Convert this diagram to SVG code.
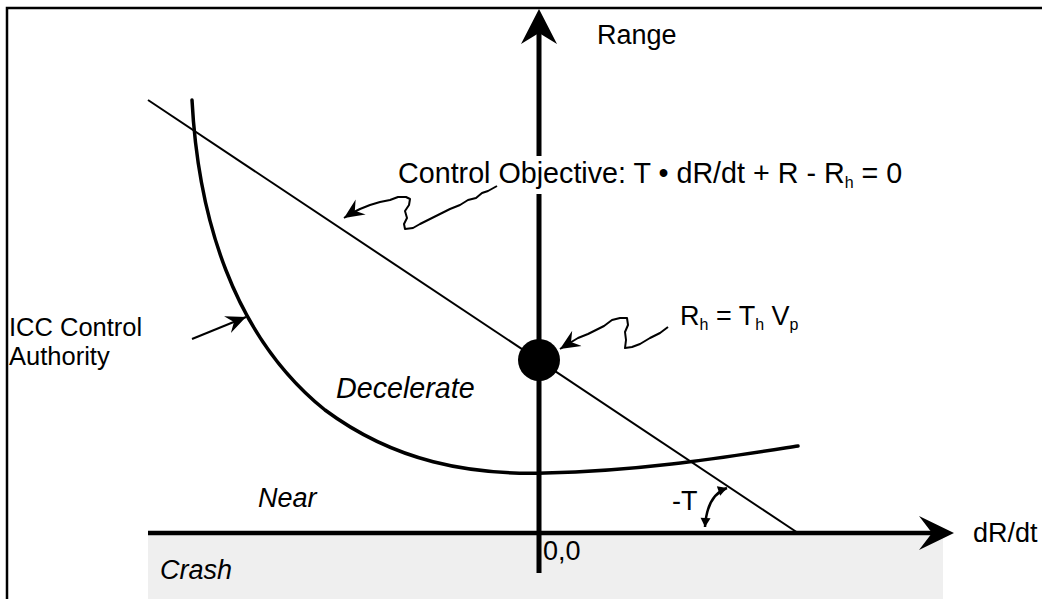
<svg xmlns="http://www.w3.org/2000/svg" width="1042" height="599" viewBox="0 0 1042 599">
<style>
text{font-family:"Liberation Sans",Arial,sans-serif;font-size:27px;fill:#000}
.it{font-style:italic}
.sub{font-size:16px}
.big{font-size:28.7px}
.icc{font-size:25.5px}
.thin{fill:none;stroke:#000;stroke-width:2}
.sq{fill:none;stroke:#000;stroke-width:2;stroke-linejoin:round}
</style>
<defs>
<marker id="ah" viewBox="-20 -10 22 20" refX="0" refY="0" markerWidth="22" markerHeight="20" markerUnits="userSpaceOnUse" orient="auto">
<path d="M0,0 L-20,-9 L-13,0 L-20,9 Z" fill="#000"/>
</marker>
<marker id="sm" viewBox="-10 -6 12 12" refX="0" refY="0" markerWidth="12" markerHeight="12" markerUnits="userSpaceOnUse" orient="auto">
<path d="M0,0 L-9,-5 L-9,5 Z" fill="#000"/>
</marker>
<marker id="sms" viewBox="-2 -6 12 12" refX="0" refY="0" markerWidth="12" markerHeight="12" markerUnits="userSpaceOnUse" orient="auto">
<path d="M0,0 L9,-5 L9,5 Z" fill="#000"/>
</marker>
</defs>
<rect x="0" y="0" width="1042" height="599" fill="#fff"/>
<g id="frame">
<path d="M7,599 V8 H1042" fill="none" stroke="#000" stroke-width="2.5"/>
</g>
<g id="crash-zone">
<rect x="148" y="535" width="795" height="64" fill="#efefef"/>
<text class="it" x="160" y="579">Crash</text>
</g>
<g id="connectors">
<line x1="148" y1="533" x2="932" y2="533" stroke="#000" stroke-width="4.5"/>
<path d="M954,533 L919,516 L932,533 L919,550 Z" fill="#000"/>
<line x1="539" y1="573" x2="539" y2="30" stroke="#000" stroke-width="5"/>
<path d="M539,9 L557,44 L539,33 L521,44 Z" fill="#000"/>
<line class="thin" x1="148" y1="100" x2="798" y2="533"/>
<path d="M192,100 C198,215 232,335 325,410 C395,462 470,475 545,473 C640,471 720,458 798,446" fill="none" stroke="#000" stroke-width="3.5" stroke-linecap="round"/>
<line class="thin" x1="192" y1="339" x2="246" y2="317" marker-end="url(#ah)"/>
<path class="sq" d="M497,186 L488,191 L482,193 L476,198 L468,200 L460,205 L450,209 L440,214 L430,219 L420,224 L413,228 L405,229 L404,224 L407,218 L405,211 L409,205 L410,199 L406,197 L398,197 L390,200 L380,202 L370,205 L360,209 L350,214 L344,218" marker-end="url(#ah)"/>
<path class="sq" d="M668,327 L660,333 L650,338 L640,344 L632,347 L625,348 L626,340 L625,332 L628,325 L627,318 L620,318 L612,320 L604,326 L596,330 L588,334 L578,338 L568,344 L560,349" marker-end="url(#ah)"/>
<path d="M727,488 Q707,495 705,527" fill="none" stroke="#000" stroke-width="2.5" marker-start="url(#sms)" marker-end="url(#sm)"/>
</g>
<g id="setpoint">
<circle cx="539" cy="360" r="21" fill="#000"/>
</g>
<g id="labels">
<text x="597" y="44">Range</text>
<rect x="530" y="156" width="20" height="38" fill="#fff"/>
<text class="big" x="398" y="183">Control Objective: T • dR/dt + R - R<tspan class="sub" dy="5">h</tspan><tspan dy="-5"> = 0</tspan></text>
<text class="icc" x="9" y="336">ICC Control</text>
<text class="icc" x="9" y="365">Authority</text>
<text class="it big" x="336" y="398">Decelerate</text>
<text class="it" x="258" y="507">Near</text>
<text x="672" y="510">-T</text>
<text x="973" y="542">dR/dt</text>
<text x="543" y="560">0,0</text>
<text x="680" y="325">R<tspan class="sub" dy="5">h</tspan><tspan dy="-5"> = T</tspan><tspan class="sub" dy="5">h</tspan><tspan dy="-5"> V</tspan><tspan class="sub" dy="5">p</tspan></text>
</g>
</svg>
